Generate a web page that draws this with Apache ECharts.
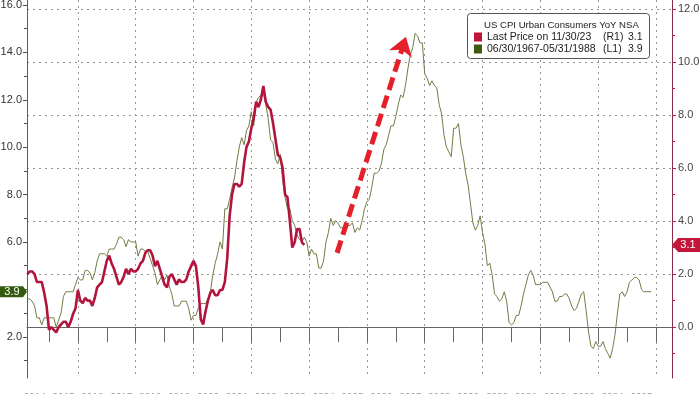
<!DOCTYPE html>
<html><head><meta charset="utf-8">
<script src="https://cdn.jsdelivr.net/npm/echarts@6/dist/echarts.min.js"></script>
<style>html,body{margin:0;padding:0;background:#fff}#c{width:700px;height:394px}</style>
</head><body><div id="c"></div>
<script>
// ---------- DATA ----------
// Red (R1): US CPI Urban Consumers YoY NSA, monthly Apr 2014 – Nov 2023
const redName = 'Last Price on 11/30/23';
const redStart = '2014-04';
const redValues = [
  2.0, 2.1, 2.1, 2.0, 1.7, 1.7, 1.7, 1.3, 0.8,
  -0.1, 0.0, -0.1, -0.2, 0.0, 0.1, 0.2, 0.2, 0.0, 0.2, 0.5, 0.7,
  1.4, 1.0, 0.9, 1.1, 1.0, 1.0, 0.8, 1.1, 1.5, 1.6, 1.7, 2.1,
  2.5, 2.7, 2.4, 2.2, 1.9, 1.6, 1.7, 1.9, 2.2, 2.0, 2.2, 2.1,
  2.1, 2.2, 2.4, 2.5, 2.8, 2.9, 2.9, 2.7, 2.3, 2.5, 2.2, 1.9,
  1.6, 1.5, 1.9, 2.0, 1.8, 1.6, 1.8, 1.7, 1.7, 1.8, 2.1, 2.3,
  2.5, 2.3, 1.5, 0.3, 0.1, 0.6, 1.0, 1.3, 1.4, 1.2, 1.2, 1.4,
  1.4, 1.7, 2.6, 4.2, 5.0, 5.4, 5.4, 5.3, 5.4, 6.2, 6.8, 7.0,
  7.5, 7.9, 8.5, 8.3, 8.6, 9.1, 8.5, 8.3, 8.2, 7.7, 7.1, 6.5,
  6.4, 6.0, 5.0, 4.9, 4.0, 3.0, 3.2, 3.7, 3.7, 3.2, 3.1
];
// Green (L1): same index, monthly Oct 1966 – May 1988, overlaid shifted forward
const greenName = '06/30/1967-05/31/1988';
const greenStart = '1966-10';
const greenShiftMonths = 570;
const greenValues = [
  3.6, 3.6, 3.5,
  3.3, 2.8, 2.8, 2.5, 2.8, 2.8, 2.8, 2.8, 2.8, 2.4, 2.7, 3.0,
  3.7, 3.9, 3.9, 3.9, 3.9, 4.2, 4.5, 4.4, 4.4, 4.8, 4.8, 4.7,
  4.4, 4.7, 5.2, 5.5, 5.5, 5.5, 5.4, 5.7, 5.7, 5.7, 5.9, 6.2,
  6.2, 6.1, 5.8, 6.1, 6.0, 6.0, 6.0, 5.4, 5.7, 5.7, 5.6, 5.6,
  5.3, 5.0, 4.7, 4.2, 4.4, 4.6, 4.4, 4.6, 4.1, 3.8, 3.3, 3.3,
  3.3, 3.5, 3.5, 3.5, 3.2, 2.7, 2.9, 2.9, 3.2, 3.4, 3.4, 3.4,
  3.6, 3.9, 4.6, 5.1, 5.5, 6.0, 5.7, 7.4, 7.4, 7.8, 8.3, 8.7,
  9.4, 10.0, 10.4, 10.1, 10.7, 10.9, 11.5, 10.9, 11.9, 12.1, 12.2, 12.3,
  11.8, 11.2, 10.3, 10.2, 9.5, 9.3, 9.7, 8.6, 7.9, 7.4, 7.4, 6.9,
  6.7, 6.3, 6.1, 6.0, 6.2, 6.0, 5.4, 5.7, 5.5, 5.5, 4.9, 4.9,
  5.2, 6.0, 6.4, 7.0, 6.7, 6.9, 6.8, 6.6, 6.6, 6.4, 6.7, 6.7,
  6.8, 6.4, 6.6, 6.5, 6.9, 7.4, 7.7, 7.8, 8.3, 8.9, 8.9, 9.0,
  9.3, 9.9, 10.1, 10.5, 10.9, 10.9, 11.3, 11.8, 12.2, 12.1, 12.6, 13.3,
  13.9, 14.2, 14.8, 14.7, 14.4, 14.4, 13.1, 12.9, 12.6, 12.8, 12.6, 12.5,
  11.8, 11.4, 10.5, 10.0, 9.8, 9.6, 10.8, 10.8, 11.0, 10.1, 9.6, 8.9,
  8.4, 7.6, 6.8, 6.5, 6.7, 7.1, 6.4, 5.9, 5.0, 5.1, 4.6, 3.8,
  3.7, 3.5, 3.6, 3.9, 3.5, 2.6, 2.5, 2.6, 2.9, 2.9, 3.3, 3.8,
  4.2, 4.6, 4.8, 4.6, 4.2, 4.2, 4.2, 4.3, 4.3, 4.3, 4.1, 3.9,
  3.5, 3.5, 3.7, 3.7, 3.8, 3.8, 3.6, 3.3, 3.1, 3.2, 3.5, 3.8,
  3.9, 3.1, 2.2, 1.6, 1.5, 1.8, 1.6, 1.6, 1.8, 1.5, 1.3, 1.1,
  1.5, 2.1, 3.0, 3.8, 3.9, 3.7, 3.9, 4.3, 4.4, 4.5, 4.5, 4.4,
  4.0, 3.9, 3.9, 3.9, 3.9
];
// Axis ticks / labels (x in months since Jan 2014)
const baseYear = 2014;
const xTickValues = [12,24,36,48,60,72,84,96,108,120,132,144,156,168,180,192,204,216,228,240,252,264];
const xGridValues = [24,48,72,96,120,144,168,192,216,240,264];
const xLabelValues = [6,18,30,42,54,66,78,90,102,114,126,138,150,162,174,186,198,210,222,234,246,258];
const leftTickValues = [2,4,6,8,10,12,14,16];
const leftMinorTicks = [1,3,5,7,9,11,13,15];
const leftLabelValues = [2,6,8,10,12,14,16];
const rightTickValues = [0,2,4,6,8,10,12];
const rightMinorTicks = [-1,1,3,5,7,9,11];
// Annotation arrow: [month index, right-axis value]
const arrowFrom = [131.6, 2.8];
const arrowTo = [160.2, 10.95];

// ---------- BUILD ----------
function monthIndex(s){ const [y,m] = s.split('-').map(Number); return (y-baseYear)*12 + (m-1); }
const r0 = monthIndex(redStart);
const g0 = monthIndex(greenStart) + greenShiftMonths;
const redData = redValues.map((v,i)=>[r0+i, v]);
const greenData = greenValues.map((v,i)=>[g0+i, v]);
const redLast = redValues[redValues.length-1];
const greenLast = greenValues[greenValues.length-1];

const X_MIN = 2.87, X_MAX = 270.65;
const L_MIN = 0.26, L_MAX = 16.21;
const R_MIN = -1.92, R_MAX = 12.34;
const FONT = '"Liberation Sans", Arial, sans-serif';
const dotted = {color:'#959595', width:1, type:[2,4]};

const chart = echarts.init(document.getElementById('c'), null, {renderer:'canvas'});
const option = {
  animation:false,
  backgroundColor:'#fff',
  textStyle:{fontFamily:FONT},
  grid:{left:27, right:28, top:0, bottom:16, containLabel:false, outerBoundsMode:'none'},
  xAxis:[
    {type:'value', min:X_MIN, max:X_MAX, position:'bottom',
     axisLine:{show:true, lineStyle:{color:'#666', width:1}},
     axisTick:{show:true, customValues:xTickValues, length:15, lineStyle:{color:'#666'}},
     axisLabel:{show:true, customValues:xLabelValues, margin:15, fontSize:10, color:'#9a9a9a',
       formatter:v=>String(baseYear+Math.floor(v/12))},
     splitLine:{show:false}},
    {type:'value', min:X_MIN, max:X_MAX, position:'bottom',
     axisLine:{show:false}, axisTick:{show:false, customValues:xGridValues},
     axisLabel:{show:false}, splitLine:{show:true, lineStyle:dotted}}
  ],
  yAxis:[
    {type:'value', min:L_MIN, max:L_MAX, position:'left',
     axisLine:{show:true, lineStyle:{color:'#5e6146', width:1}},
     axisTick:{show:true, customValues:leftTickValues, length:4, lineStyle:{color:'#4f5238'}},
     axisLabel:{show:true, customValues:leftLabelValues, margin:5, fontSize:11, color:'#333', formatter:v=>v.toFixed(1)},
     splitLine:{show:false}},
    {type:'value', min:R_MIN, max:R_MAX, position:'right',
     axisLine:{show:true, lineStyle:{color:'#8a2a44', width:1}},
     axisTick:{show:true, customValues:rightTickValues, length:4, lineStyle:{color:'#b0203f'}},
     axisLabel:{show:true, customValues:rightTickValues, margin:6, fontSize:11, color:'#444', formatter:v=>v.toFixed(1)},
     splitLine:{show:true, lineStyle:dotted}},
    {type:'value', min:L_MIN, max:L_MAX, position:'left',
     axisLine:{show:false},
     axisTick:{show:true, customValues:leftMinorTicks, length:3, lineStyle:{color:'#4f5238'}},
     axisLabel:{show:false}, splitLine:{show:false}},
    {type:'value', min:R_MIN, max:R_MAX, position:'right',
     axisLine:{show:false},
     axisTick:{show:true, customValues:rightMinorTicks, length:3, lineStyle:{color:'#b0203f'}},
     axisLabel:{show:false}, splitLine:{show:false}}
  ],
  legend:{
    show:true, orient:'vertical', left:469, top:26, itemGap:0, itemWidth:8, itemHeight:9,
    icon:'rect', z:10, selectedMode:false,
    data:[{name:redName, itemStyle:{color:'#c0143c'}}, {name:greenName, itemStyle:{color:'#3d5c10'}}],
    textStyle:{fontFamily:FONT, fontSize:10.5, color:'#222', lineHeight:12,
      rich:{n:{width:116, fontSize:10.5, lineHeight:12, color:'#222'}, t:{width:25, fontSize:10.5, lineHeight:12, color:'#222'}, v:{fontSize:10.5, lineHeight:12, color:'#222'}}},
    formatter:name=> name===redName ? `{n|${name}}{t|(R1)}{v|${redLast.toFixed(1)}}` : `{n|${name}}{t|(L1)}{v|${greenLast.toFixed(1)}}`
  },
  series:[
    {name:greenName, type:'line', xAxisIndex:0, yAxisIndex:0, data:greenData, showSymbol:false, symbol:'none',
     lineStyle:{color:'#6f7d45', width:1}, itemStyle:{color:'#6f7d45'}, z:2},
    {name:redName, type:'line', xAxisIndex:0, yAxisIndex:1, data:redData, showSymbol:false, symbol:'none',
     lineStyle:{color:'#b3143d', width:2.6}, itemStyle:{color:'#b3143d'}, z:3,
     markLine:{silent:true, symbol:['none','arrow'], symbolSize:18, label:{show:false},
       lineStyle:{color:'#e5202b', width:5, type:[13,6]}, itemStyle:{color:'#e5202b'},
       data:[[{coord:arrowFrom}, {coord:arrowTo}]]}}
  ]
};
chart.setOption(option);

// value tags on the axes + legend frame
const yG = chart.convertToPixel({yAxisIndex:0}, greenLast);
const yR = chart.convertToPixel({yAxisIndex:1}, redLast);
chart.setOption({graphic:[
  {type:'rect', z:3, shape:{x:467.5, y:13.5, width:182, height:45, r:3}, style:{fill:'#fff', stroke:'#555', lineWidth:1}},
  {type:'text', z:11, x:484, y:25, style:{text:'US CPI Urban Consumers YoY NSA', font:'9.6px '+FONT, fill:'#222', verticalAlign:'middle'}},
  {type:'polygon', z:20, shape:{points:[[0,yG-5.5],[23,yG-5.5],[27,yG],[23,yG+5.5],[0,yG+5.5]]}, style:{fill:'#345a10'}},
  {type:'text', z:21, x:12, y:yG, style:{text:greenLast.toFixed(1), font:'11px '+FONT, fill:'#fff', align:'center', verticalAlign:'middle'}},
  {type:'polygon', z:20, shape:{points:[[672,yR],[678,yR-7],[700,yR-7],[700,yR+7],[678,yR+7]]}, style:{fill:'#c3163a'}},
  {type:'text', z:21, x:688, y:yR, style:{text:redLast.toFixed(1), font:'11px '+FONT, fill:'#fff', align:'center', verticalAlign:'middle'}}
]});
</script></body></html>
